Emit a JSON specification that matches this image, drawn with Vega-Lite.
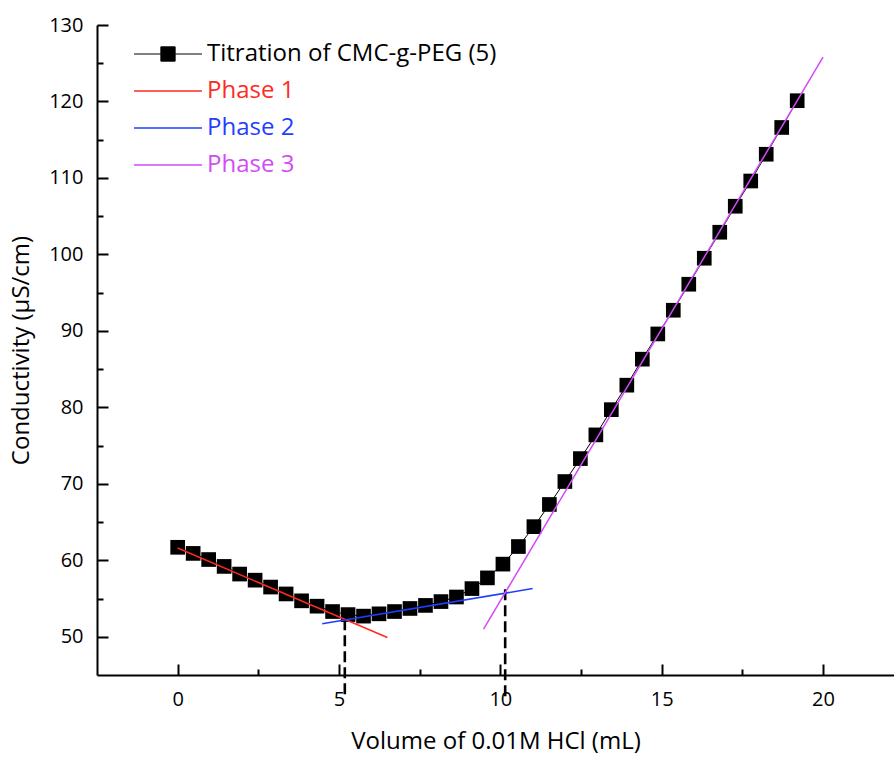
{
  "$schema": "https://vega.github.io/schema/vega-lite/v6.json",
  "width": 797,
  "height": 650,
  "autosize": {"type": "none"},
  "padding": {"left": 97, "top": 25, "right": 0, "bottom": 85},
  "background": "white",
  "config": {
    "view": {"stroke": null},
    "font": "Open Sans",
    "axis": {
      "domainColor": "black",
      "domainWidth": 2,
      "tickColor": "black",
      "tickWidth": 2,
      "grid": false,
      "labelColor": "black",
      "labelFont": "Open Sans",
      "labelFontSize": 20,
      "titleColor": "black",
      "titleFont": "Open Sans",
      "titleFontSize": 24,
      "titleFontWeight": "normal"
    }
  },
  "datasets": {
    "titration": [
      {"x": 0, "y": 61.7}, {"x": 0.48, "y": 60.9}, {"x": 0.96, "y": 60.1}, {"x": 1.44, "y": 59.2},
      {"x": 1.92, "y": 58.2}, {"x": 2.4, "y": 57.4}, {"x": 2.88, "y": 56.5}, {"x": 3.36, "y": 55.6},
      {"x": 3.84, "y": 54.7}, {"x": 4.32, "y": 54.0}, {"x": 4.8, "y": 53.3}, {"x": 5.28, "y": 52.9},
      {"x": 5.76, "y": 52.7}, {"x": 6.24, "y": 53.0}, {"x": 6.72, "y": 53.3}, {"x": 7.2, "y": 53.7},
      {"x": 7.68, "y": 54.1}, {"x": 8.16, "y": 54.6}, {"x": 8.64, "y": 55.2}, {"x": 9.12, "y": 56.3},
      {"x": 9.6, "y": 57.7}, {"x": 10.08, "y": 59.5}, {"x": 10.56, "y": 61.8}, {"x": 11.04, "y": 64.4},
      {"x": 11.52, "y": 67.3}, {"x": 12, "y": 70.3}, {"x": 12.48, "y": 73.3}, {"x": 12.96, "y": 76.4},
      {"x": 13.44, "y": 79.7}, {"x": 13.92, "y": 82.9}, {"x": 14.4, "y": 86.3}, {"x": 14.88, "y": 89.6},
      {"x": 15.36, "y": 92.7}, {"x": 15.84, "y": 96.1}, {"x": 16.32, "y": 99.5}, {"x": 16.8, "y": 102.9},
      {"x": 17.28, "y": 106.3}, {"x": 17.76, "y": 109.6}, {"x": 18.24, "y": 113.1}, {"x": 18.72, "y": 116.6},
      {"x": 19.2, "y": 120.1}
    ],
    "phases": [
      {"series": "Phase 1", "x": 0, "y": 61.6},
      {"series": "Phase 1", "x": 6.5, "y": 49.9},
      {"series": "Phase 2", "x": 4.48, "y": 51.7},
      {"series": "Phase 2", "x": 11.0, "y": 56.3},
      {"series": "Phase 3", "x": 9.48, "y": 51.0},
      {"series": "Phase 3", "x": 20.0, "y": 125.8}
    ],
    "drops": [
      {"x": 5.18, "y": 52.3, "y2": 42.2},
      {"x": 10.15, "y": 56.2, "y2": 42.2}
    ]
  },
  "layer": [
    {
      "data": {"name": "drops"},
      "mark": {"type": "rule", "strokeDash": [11, 5], "strokeWidth": 2.6, "color": "black"},
      "encoding": {
        "x": {"field": "x", "type": "quantitative", "scale": {"domain": [-2.5, 22.2], "nice": false, "zero": false},
          "axis": {
            "title": "Volume of 0.01M HCl (mL)",
            "values": [0, 2.5, 5, 7.5, 10, 12.5, 15, 17.5, 20],
            "labelExpr": "datum.value % 5 === 0 ? datum.label : ''",
            "tickSize": {"expr": "(datum.value % 5 === 0 ? -11 : -6)"},
            "labelPadding": 25,
            "titlePadding": 20
          }},
        "y": {"field": "y", "type": "quantitative", "scale": {"domain": [45, 130], "nice": false, "zero": false},
          "axis": {
            "title": "Conductivity (µS/cm)",
            "values": [50, 55, 60, 65, 70, 75, 80, 85, 90, 95, 100, 105, 110, 115, 120, 125, 130],
            "labelExpr": "datum.value % 10 === 0 ? datum.label : ''",
            "tickSize": {"expr": "(datum.value % 10 === 0 ? -11 : -6)"},
            "labelPadding": 25,
            "titlePadding": 15
          }},
        "y2": {"field": "y2"}
      }
    },
    {
      "data": {"name": "titration"},
      "mark": {"type": "line", "strokeWidth": 1, "color": "#333333"},
      "encoding": {
        "x": {"field": "x", "type": "quantitative"},
        "y": {"field": "y", "type": "quantitative"},
        "color": {"datum": "Titration of CMC-g-PEG (5)"}
      }
    },
    {
      "data": {"name": "titration"},
      "mark": {"type": "point", "shape": "square", "filled": true, "size": 215, "opacity": 1},
      "encoding": {
        "x": {"field": "x", "type": "quantitative"},
        "y": {"field": "y", "type": "quantitative"},
        "color": {"datum": "Titration of CMC-g-PEG (5)"}
      }
    },
    {
      "data": {"name": "phases"},
      "mark": {"type": "line", "strokeWidth": 1.5},
      "encoding": {
        "x": {"field": "x", "type": "quantitative"},
        "y": {"field": "y", "type": "quantitative"},
        "color": {
          "field": "series",
          "type": "nominal",
          "scale": {
            "domain": ["Titration of CMC-g-PEG (5)", "Phase 1", "Phase 2", "Phase 3"],
            "range": ["black", "#FF2A1F", "#1F3FFF", "#D24BF7"]
          },
          "legend": {
            "title": null,
            "orient": "none",
            "legendX": 59,
            "legendY": 17,
            "symbolType": "stroke",
            "symbolSize": 4624,
            "symbolStrokeWidth": 1.5,
            "labelFont": "Open Sans",
            "labelFontSize": 24,
            "labelOffset": 27,
            "rowPadding": 13,
            "labelLimit": 0,
            "encode": {
              "labels": {"update": {"fill": {"scale": "color", "field": "value"}}},
              "symbols": {"update": {
                "shape": {"signal": "datum.value === 'Titration of CMC-g-PEG (5)' ? 'M-1,0H-0.21M0.21,0H1M-0.21,-0.21H0.21V0.21H-0.21Z' : 'stroke'"},
                "fill": {"signal": "datum.value === 'Titration of CMC-g-PEG (5)' ? 'black' : 'transparent'"},
                "strokeWidth": {"signal": "datum.value === 'Titration of CMC-g-PEG (5)' ? 1 : 1.5"},
                "opacity": {"value": 1}
              }}
            }
          }
        }
      }
    }
  ]
}
